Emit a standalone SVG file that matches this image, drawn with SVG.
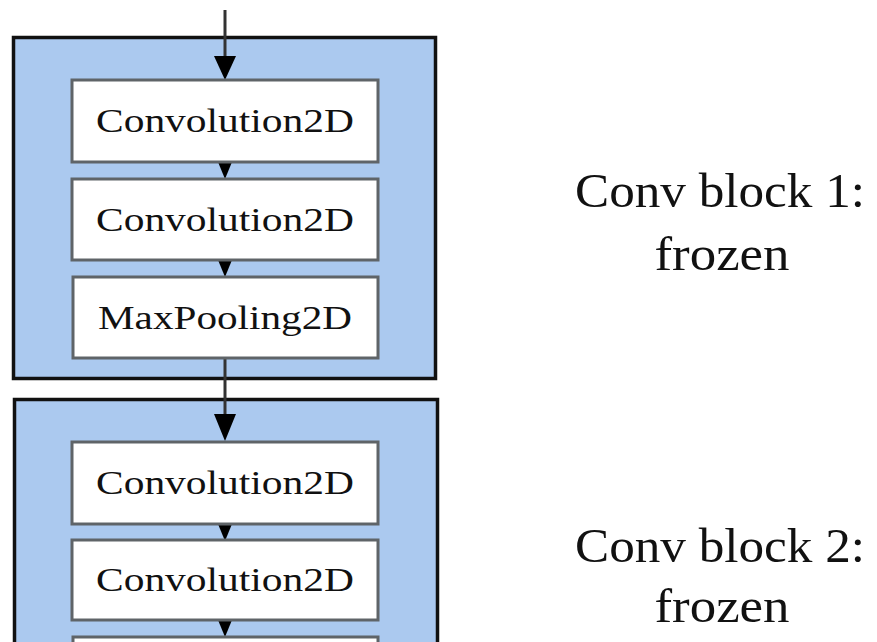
<svg xmlns="http://www.w3.org/2000/svg" width="877" height="642" viewBox="0 0 877 642">
<style>
.block{fill:#abc9ef;stroke:#111;stroke-width:3.5}
.layer{fill:#fff;stroke:#5f6468;stroke-width:3}
.lt{font-family:"Liberation Serif","Times New Roman",serif;font-size:34px;fill:#111;text-anchor:middle}
.lab{font-family:"Liberation Serif","Times New Roman",serif;font-size:48px;fill:#111;text-anchor:middle}
.line{stroke:#333;stroke-width:3;fill:none}
.head{fill:#000}
</style>
<rect width="877" height="642" fill="#fff"/>
<g id="block1">
<rect class="block" x="13.5" y="37.5" width="422" height="341"/>
</g>
<g id="block2">
<rect class="block" x="14.5" y="399.5" width="423" height="260"/>
</g>
<g id="connectors">
<line class="line" x1="225" y1="10" x2="225" y2="58"/>
<polygon class="head" points="214,56 236,56 225,80"/>
<polygon class="head" points="218,162 232,162 225,179"/>
<polygon class="head" points="218,260 232,260 225,277"/>
<line class="line" x1="225" y1="358" x2="225" y2="416"/>
<polygon class="head" points="214,414 236,414 225,441"/>
<polygon class="head" points="218,524 232,524 225,541"/>
<polygon class="head" points="218,620 232,620 225,637"/>
</g>
<g id="b1conv1">
<rect class="layer" x="72" y="80" width="306" height="82"/>
<text class="lt" x="225" y="132" textLength="258" lengthAdjust="spacingAndGlyphs">Convolution2D</text>
</g>
<g id="b1conv2">
<rect class="layer" x="72" y="179" width="306" height="81"/>
<text class="lt" x="225" y="231" textLength="258" lengthAdjust="spacingAndGlyphs">Convolution2D</text>
</g>
<g id="b1pool">
<rect class="layer" x="73" y="277" width="305" height="81"/>
<text class="lt" x="225" y="329" textLength="254" lengthAdjust="spacingAndGlyphs">MaxPooling2D</text>
</g>
<g id="b2conv1">
<rect class="layer" x="72" y="442" width="306" height="82"/>
<text class="lt" x="225" y="494" textLength="258" lengthAdjust="spacingAndGlyphs">Convolution2D</text>
</g>
<g id="b2conv2">
<rect class="layer" x="72" y="540" width="306" height="80"/>
<text class="lt" x="225" y="591" textLength="258" lengthAdjust="spacingAndGlyphs">Convolution2D</text>
</g>
<g id="b2pool">
<rect class="layer" x="73" y="637" width="305" height="30"/>
</g>
<g id="label1">
<text class="lab" x="720" y="207" textLength="290" lengthAdjust="spacingAndGlyphs">Conv block 1:</text>
<text class="lab" x="722" y="270" textLength="135" lengthAdjust="spacingAndGlyphs">frozen</text>
</g>
<g id="label2">
<text class="lab" x="720" y="562" textLength="290" lengthAdjust="spacingAndGlyphs">Conv block 2:</text>
<text class="lab" x="722" y="622" textLength="135" lengthAdjust="spacingAndGlyphs">frozen</text>
</g>
</svg>
